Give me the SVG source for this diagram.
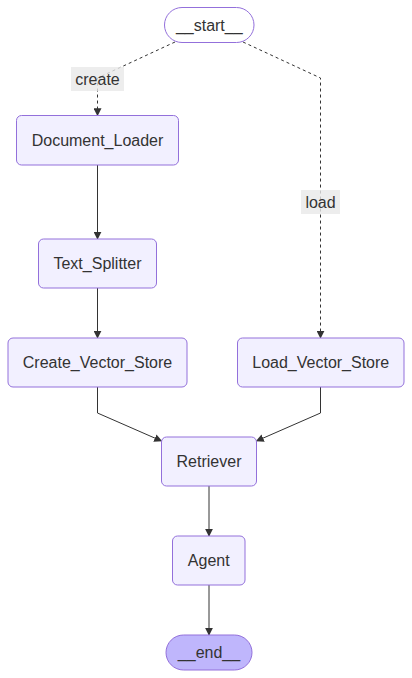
<svg xmlns="http://www.w3.org/2000/svg" width="412" height="678" viewBox="0 0 412 678">
<style>
.node rect{fill:#f2f0ff;stroke:#9370db;stroke-width:1}
.node.first rect{fill:#ffffff;fill-opacity:0}
.node.last rect{fill:#bfb6fc}
text{font-family:"Liberation Sans",Arial,sans-serif;font-size:16px;fill:#333333;text-anchor:middle;dominant-baseline:central}
.edge{fill:none;stroke:#333333;stroke-width:1}
.dotted{stroke-dasharray:3 3}
.lbl rect{fill:#e8e8e8;fill-opacity:0.8;stroke:none}
</style>
<defs>
<marker id="arr" viewBox="0 0 10 10" refX="9" refY="5" markerWidth="8" markerHeight="8" markerUnits="userSpaceOnUse" orient="auto">
<path d="M0,0 L10,5 L0,10 z" fill="#333333"/>
</marker>
</defs>
<rect width="412" height="678" fill="#ffffff"/>
<g id="edges">
<path class="edge dotted" d="M175,42 L97.5,78 L97.5,115.5" marker-end="url(#arr)"/>
<path class="edge dotted" d="M243,42 L320.5,78 L320.5,338" marker-end="url(#arr)"/>
<path class="edge" d="M97.5,165 L97.5,239" marker-end="url(#arr)"/>
<path class="edge" d="M97.5,288 L97.5,338" marker-end="url(#arr)"/>
<path class="edge" d="M97.5,387 L97.5,413 L161.5,441" marker-end="url(#arr)"/>
<path class="edge" d="M320.5,387 L320.5,413 L256.5,441" marker-end="url(#arr)"/>
<path class="edge" d="M209,486 L209,536" marker-end="url(#arr)"/>
<path class="edge" d="M209,585 L209,635" marker-end="url(#arr)"/>
<g class="lbl"><rect x="71" y="67" width="53" height="24"/><text x="97.5" y="79">create</text></g>
<g class="lbl"><rect x="301" y="190" width="39" height="24"/><text x="320.5" y="202">load</text></g>
</g>
<g id="start" class="node first"><rect x="164.5" y="7.5" width="89.5" height="35" rx="17.5"/><text x="209.25" y="25">__start__</text></g>
<g id="Document_Loader" class="node"><rect x="16.5" y="115.5" width="162" height="49.5" rx="5"/><text x="97.5" y="140.25">Document_Loader</text></g>
<g id="Text_Splitter" class="node"><rect x="38.5" y="239" width="118" height="49" rx="5"/><text x="97.5" y="263.5">Text_Splitter</text></g>
<g id="Create_Vector_Store" class="node"><rect x="8" y="338" width="179" height="49" rx="5"/><text x="97.5" y="362.5">Create_Vector_Store</text></g>
<g id="Load_Vector_Store" class="node"><rect x="237.5" y="338" width="166.5" height="49" rx="5"/><text x="320.75" y="362.5">Load_Vector_Store</text></g>
<g id="Retriever" class="node"><rect x="161.5" y="437" width="95" height="49" rx="5"/><text x="209" y="461.5">Retriever</text></g>
<g id="Agent" class="node"><rect x="172.5" y="536" width="72.5" height="49" rx="5"/><text x="208.75" y="560.5">Agent</text></g>
<g id="end" class="node last"><rect x="166" y="635" width="86" height="35" rx="17.5"/><text x="209" y="652.5">__end__</text></g>
</svg>
